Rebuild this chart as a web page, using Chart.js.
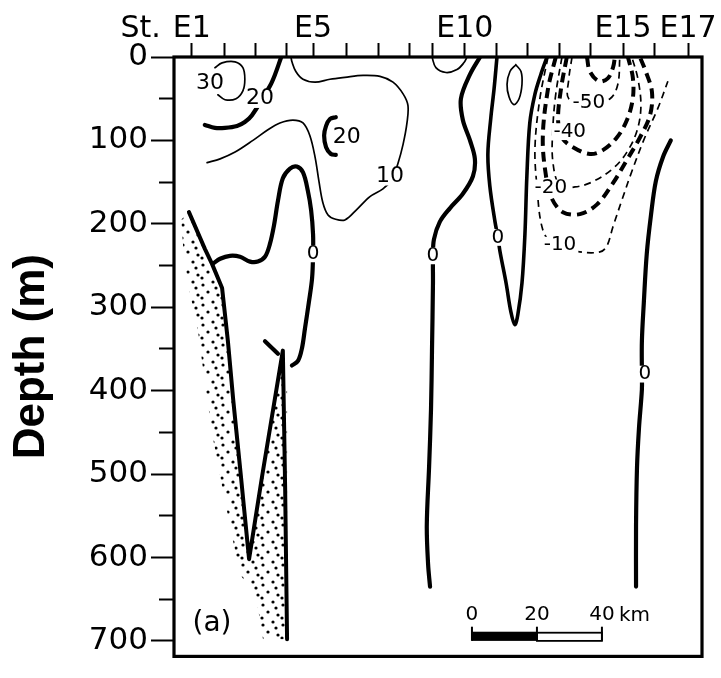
<!DOCTYPE html>
<html>
<head>
<meta charset="utf-8">
<script src="https://cdn.jsdelivr.net/npm/chart.js@4.4.0/dist/chart.umd.min.js"></script>
<style>
  html, body { margin: 0; padding: 0; background: #fff; }
  canvas { display: block; }
</style>
</head>
<body>
<canvas id="section" width="721" height="678"></canvas>
<script>
// station positions along the section, km from the left edge of the frame
var stationKm = [5.5, 15.4, 25.2, 34.5, 42.8, 53.2, 62.8, 72.6, 79.7, 89.5, 99.4, 108.9, 118.5, 128.3, 138.2, 148.0, 158.2];
var stationLabels = ['E1', '', '', '', 'E5', '', '', '', '', 'E10', '', '', '', '', 'E15', '', 'E17'];
var depthTicks = [0, 100, 200, 300, 400, 500, 600, 700];
var depthMinorTicks = [50, 150, 250, 350, 450, 550, 650];
var xMax = 162.5, yMax = 718.6;

// bottom profile and sediment (stippled) area, [km, m]
var bottom = [[4.6,186],[9.5,230],[11.7,248],[14.8,277],[16.6,341],[18.2,410],[20.6,503],[23.1,602],
  [27.1,503],[33.5,352],[34.2,515],[34.8,698]];
var sediment = [[4.6,186],[9.5,230],[11.7,248],[14.8,277],[16.6,341],[18.2,410],[20.6,503],[23.1,602],
  [25.2,556],[27.1,503],[31.1,410],[32.6,381],[34.8,381],[34.8,698],[27.4,698],[25.8,660],[23.4,637],
  [20.3,620],[17.8,573],[14.8,515],[12.0,457],[9.8,399],[7.4,329],[4.9,283],[3.1,242],[2.2,195]];

// positive contours
var c30 = [[12.6,12.8],[14.8,7.0],[18.8,5.8],[21.2,12.8],[21.8,26.7],[21.2,40.7],[19.1,50.0],[15.7,51.2],[13.5,45.3]];
var c20a = [[32.9,1.2],[31.1,20.9],[29.5,34.9],[24.0,69.8],[21.8,77.9],[19.4,82.6],[15.7,84.9],[12.6,84.9],[9.5,81.4]];
var c20b = [[49.8,72.1],[48.0,74.4],[46.8,82.6],[46.2,94.2],[46.8,108.1],[48.3,116.3],[49.8,117.4]];
var c10a = [[10.2,126.7],[14.2,122.1],[18.8,114.0],[24.3,100.0],[28.9,87.2],[32.6,79.1],[36.6,75.6],[39.7,79.1],
  [41.8,94.2],[43.4,119.8],[44.6,148.8],[45.8,174.4],[47.4,189.5],[49.5,194.2],[52.6,195.3],[56.3,182.6],
  [60.3,167.4],[64.3,158.1],[67.1,146.5],[68.9,127.9],[70.5,104.7],[71.7,79.1],[72.0,58.1],[70.5,44.2],
  [67.4,30.2],[63.4,23.3],[58.2,22.1],[52.6,24.4],[48.0,26.7],[43.4,30.2],[39.7,26.7],[37.5,17.4],[36.3,5.8],[36.0,0]];
var c10b = [[79.4,0],[80.6,12.8],[83.7,18.6],[87.1,15.1],[89.2,7.0],[90.2,0]];
var c10c = [[105.2,9.3],[106.8,17.4],[107.1,32.6],[106.2,50.0],[104.6,57.0],[103.1,47.7],[102.5,32.6],[103.4,17.4],[105.2,9.3]];

// zero contours
var c0a = [[12.0,247.7],[14.2,241.9],[17.2,238.4],[20.3,239.5],[23.4,245.3],[25.8,245.3],[28.0,239.5],[29.5,224.4],
  [30.8,201.2],[32.0,172.1],[33.5,145.3],[35.7,133.7],[37.8,131.4],[39.7,138.4],[41.2,160.5],[42.2,183.7],
  [42.8,212.8],[42.8,236.0],[42.5,265.1],[41.5,294.2],[40.3,325.6],[39.4,348.8],[38.2,364.0],[36.3,369.8]];
var c0aTick = [[28.0,340.7],[32.0,355.8]];
var c0b = [[94.2,0],[91.1,20.9],[88.3,50.0],[88.9,75.6],[91.1,100.0],[92.6,122.1],[92.0,143.0],[88.9,164.0],
  [84.9,181.4],[81.8,197.7],[80.0,218.6],[79.7,238.4],[79.7,270.9],[79.4,352.3],[79.1,422.1],[78.5,491.9],
  [77.8,561.6],[78.2,608.1],[78.8,634.9]];
var c0c = [[99.4,0],[98.5,38.4],[97.5,73.3],[96.6,116.3],[97.2,154.7],[98.8,197.7],[99.7,216.3],[100.3,232.6],
  [102.2,270.9],[103.7,305.8],[104.9,320.9],[105.8,309.3],[107.1,270.9],[108.0,212.8],[108.6,143.0],
  [109.5,79.1],[111.1,44.2],[112.9,20.9],[114.8,0]];
var c0d = [[152.9,100.0],[150.5,119.8],[148.3,148.8],[146.8,189.5],[145.5,236.0],[144.6,294.2],[144.0,340.7],
  [144.0,380.0],[144.0,398.8],[143.1,445.3],[142.5,491.9],[142.2,561.6],[142.2,634.9]];

// negative contours (dashed)
var cm10 = [[115.1,0],[112.6,50.0],[111.1,108.1],[111.7,154.7],[113.5,207.0],[117.2,226.7],[124.9,233.7],
  [131.1,233.7],[133.2,226.7],[135.1,203.5],[137.8,172.1],[140.9,137.2],[144.9,96.5],[148.9,61.6],[152.0,29.1]];
var cm20 = [[117.5,0],[115.1,38.4],[113.5,96.5],[114.5,143.0],[116.3,169.8],[119.7,186.0],[124.9,188.4],
  [130.2,176.7],[135.1,151.2],[139.4,123.3],[143.4,96.5],[146.5,69.8],[147.1,41.9],[145.2,17.4],[143.4,0]];
var cm30 = [[119.4,0],[117.5,44.2],[116.6,84.9],[116.6,125.6],[118.8,154.7],[123.4,155.8],[128.6,150.0],
  [135.1,133.7],[139.4,114.0],[142.5,88.4],[143.7,59.3],[142.8,26.7],[140.9,0]];
var cm40 = [[120.9,0],[119.1,38.4],[118.2,75.6],[119.4,96.5],[122.8,108.1],[128.0,116.3],[132.0,111.6],
  [136.3,96.5],[139.4,75.6],[141.2,50.0],[141.2,24.4],[139.7,0]];
var cm50 = [[122.5,0],[121.5,26.7],[121.5,50.0],[127.7,56.0],[134.2,50.0],[136.6,32.6],[137.2,0]];
var cm60 = [[127.1,0],[128.0,17.4],[130.8,29.1],[133.5,25.6],[135.1,12.8],[135.7,0]];

// contour labels [text, km, m]
var contourLabels = [['30',11.1,31.4],['20',26.5,50.0],['20',53.2,96.5],['10',66.5,143.0],
  ['0',42.8,236.0],['0',79.7,238.4],['0',99.7,216.3],['0',144.9,380.2],
  ['-50',127.7,54.7],['-40',121.8,89.5],['-20',116.0,157.0],['-10',118.8,225.6],['(a)',11.7,679]];

// scale bar
var scaleBarStart = 91.7;
var scaleBarKm = [0, 20, 40];

function series(pts, width, dash, tension) {
  return {
    data: pts.map(function(p) { return {x: p[0], y: p[1]}; }),
    xAxisID: 'x', yAxisID: 'y',
    showLine: true,
    borderColor: '#000',
    borderWidth: width,
    borderDash: dash || [],
    borderCapStyle: dash ? 'butt' : 'round',
    borderJoinStyle: 'round',
    pointRadius: 0,
    tension: tension === undefined ? 0.35 : tension,
    fill: false
  };
}

function stipple() {
  var c = document.createElement('canvas');
  c.width = 20; c.height = 20;
  var g = c.getContext('2d');
  g.fillStyle = '#000';
  [[3,5],[13,2],[8,12],[18,15],[2,18],[16,8]].forEach(function(p) {
    g.beginPath(); g.arc(p[0], p[1], 1.6, 0, Math.PI * 2); g.fill();
  });
  return g.createPattern(c, 'repeat');
}

var decor = {
  id: 'decor',
  beforeDatasetsDraw: function(chart) {
    var ctx = chart.ctx, xs = chart.scales.x, ys = chart.scales.y;
    ctx.save();
    ctx.beginPath();
    sediment.forEach(function(p, i) {
      var px = xs.getPixelForValue(p[0]), py = ys.getPixelForValue(p[1]);
      if (i) ctx.lineTo(px, py); else ctx.moveTo(px, py);
    });
    ctx.closePath();
    ctx.fillStyle = stipple();
    ctx.fill();
    ctx.restore();
  },
  afterDatasetsDraw: function(chart) {
    var ctx = chart.ctx, xs = chart.scales.x, ys = chart.scales.y, ca = chart.chartArea;
    ctx.save();
    ctx.textAlign = 'center';
    ctx.textBaseline = 'middle';
    contourLabels.forEach(function(l) {
      var t = l[0];
      var size = t === '(a)' ? 28 : (t === '0' ? 20 : (t.charAt(0) === '-' ? 20 : 22));
      ctx.font = size + 'px "DejaVu Sans"';
      var px = xs.getPixelForValue(l[1]), py = ys.getPixelForValue(l[2]);
      var w = ctx.measureText(t).width;
      ctx.fillStyle = '#fff';
      ctx.fillRect(px - w / 2 - 2, py - size * 0.42, w + 4, size * 0.84);
      ctx.fillStyle = '#000';
      ctx.fillText(t, px, py);
    });

    // frame
    ctx.strokeStyle = '#000';
    ctx.lineWidth = 3.2;
    ctx.strokeRect(ca.left, ca.top, ca.right - ca.left, ca.bottom - ca.top);

    // scale bar
    var bx = scaleBarKm.map(function(k) { return xs.getPixelForValue(scaleBarStart + k); });
    var yTop = ys.getPixelForValue(689), yBot = ys.getPixelForValue(700);
    ctx.fillRect(bx[0], yTop, bx[1] - bx[0], yBot - yTop);
    ctx.lineWidth = 1.8;
    ctx.strokeRect(bx[1], yTop + 1, bx[2] - bx[1], yBot - yTop - 1);
    ctx.lineWidth = 2;
    bx.forEach(function(x) {
      ctx.beginPath(); ctx.moveTo(x, ys.getPixelForValue(683)); ctx.lineTo(x, yBot); ctx.stroke();
    });
    ctx.font = '20px "DejaVu Sans"';
    var ly = ys.getPixelForValue(668.6);
    scaleBarKm.forEach(function(k, i) { ctx.fillText(String(k), bx[i], ly); });
    ctx.textAlign = 'left';
    ctx.fillText('km', bx[2] + 17, ly + 1);

    // "St." in front of E1
    ctx.font = '30px "DejaVu Sans"';
    ctx.textAlign = 'right';
    var e1 = xs.getPixelForValue(stationKm[0]);
    ctx.fillText('St.', e1 - ctx.measureText('E1').width / 2 - 12, xs.bottom - 14 + 3 - 16.5);
    ctx.restore();
  }
};

var datasets = [
  series(bottom, 4, null, 0),
  series(c30, 1.7),
  series(c20a, 4.2),
  series(c20b, 4.2),
  series(c10a, 1.7),
  series(c10b, 1.7),
  series(c10c, 1.7),
  series(c0a, 4.2),
  series(c0aTick, 4.2, null, 0),
  series(c0b, 4.2),
  series(c0c, 3.6),
  series(c0d, 4.2),
  series(cm10, 1.7, [7, 5]),
  series(cm20, 4, [10, 6]),
  series(cm30, 1.7, [7, 5]),
  series(cm40, 4, [10, 6]),
  series(cm50, 1.7, [7, 5]),
  series(cm60, 4, [10, 6])
];

var chart = new Chart(document.getElementById('section'), {
  type: 'scatter',
  data: { datasets: datasets },
  plugins: [decor],
  options: {
    responsive: false,
    animation: false,
    layout: { padding: { left: 0, top: 0, right: 19, bottom: 3 } },
    plugins: { legend: { display: false }, tooltip: { enabled: false } },
    scales: {
      x: {
        type: 'linear', position: 'top', min: 0, max: xMax,
        afterBuildTicks: function(s) { s.ticks = stationKm.map(function(v) { return {value: v}; }); },
        afterFit: function(s) { s.height = 57; },
        ticks: {
          autoSkip: false, maxRotation: 0, padding: -3, color: '#000',
          font: { family: 'DejaVu Sans', size: 30, lineHeight: 1.1 },
          callback: function(v, i) { return stationLabels[i]; }
        },
        grid: { drawOnChartArea: false, drawTicks: true, tickLength: 14, tickWidth: 2, tickColor: '#000' },
        border: { display: false }
      },
      y: {
        type: 'linear', axis: 'y', position: 'left', reverse: true, min: 0, max: yMax, weight: 1,
        afterBuildTicks: function(s) { s.ticks = depthTicks.map(function(v) { return {value: v}; }); },
        afterFit: function(s) { s.width = 174; },
        ticks: {
          padding: 3, color: '#000',
          font: { family: 'DejaVu Sans', size: 31 },
          callback: function(v) { return String(v); }
        },
        grid: { drawOnChartArea: false, drawTicks: true, tickLength: 23, tickWidth: 2, tickColor: '#000' },
        border: { display: false },
        title: {
          display: true, text: 'Depth (m)', color: '#000',
          font: { family: 'Liberation Sans', size: 44, weight: 'bold' },
          padding: { top: 5, bottom: 0 }
        }
      },
      yMinor: {
        type: 'linear', axis: 'y', position: 'left', reverse: true, min: 0, max: yMax, weight: 0,
        afterBuildTicks: function(s) { s.ticks = depthMinorTicks.map(function(v) { return {value: v}; }); },
        afterFit: function(s) { s.width = 0; },
        ticks: { display: false },
        grid: { drawOnChartArea: false, drawTicks: true, tickLength: 15, tickWidth: 2, tickColor: '#000' },
        border: { display: false }
      }
    }
  }
});
</script>
</body>
</html>
